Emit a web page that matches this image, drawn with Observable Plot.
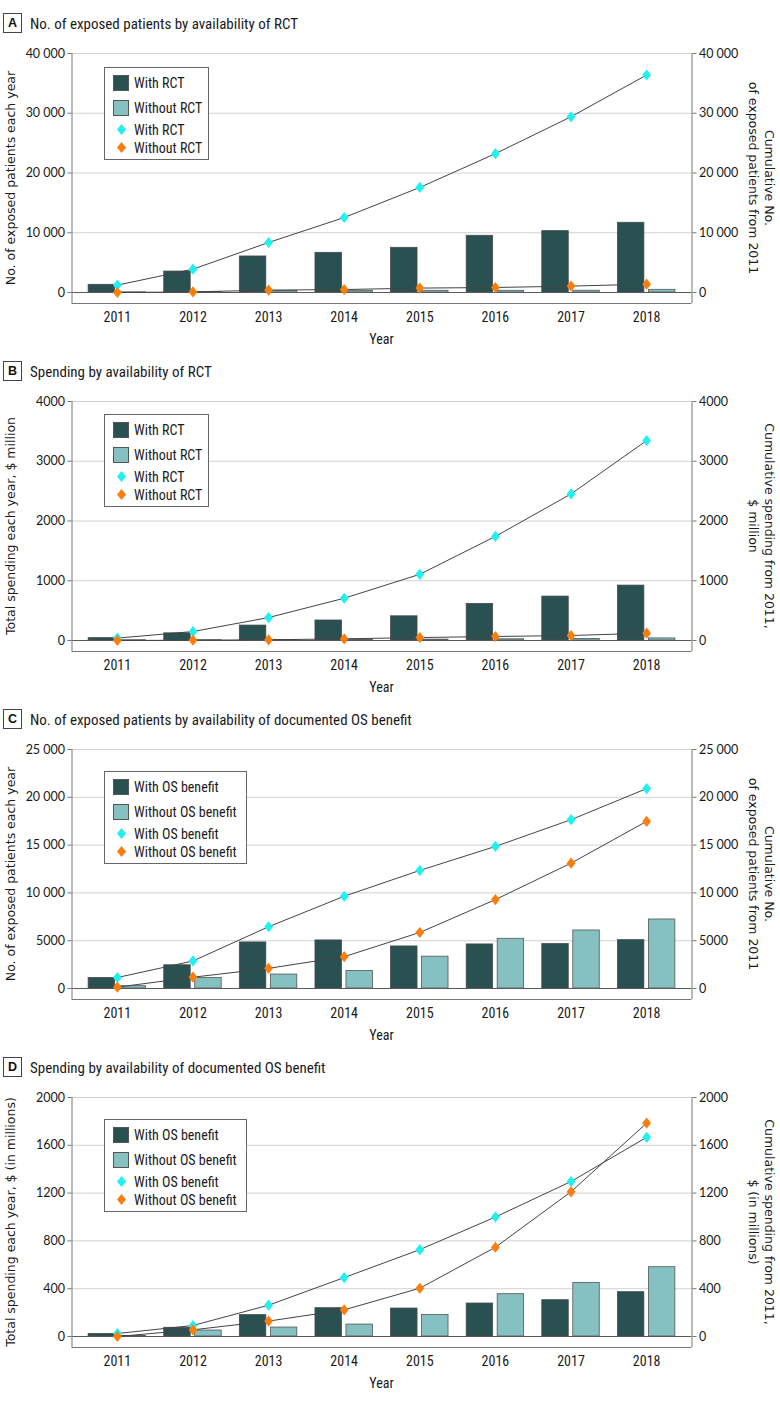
<!DOCTYPE html>
<html>
<head>
<meta charset="utf-8">
<script src="https://cdn.jsdelivr.net/npm/d3@7"></script>
<script src="https://cdn.jsdelivr.net/npm/@observablehq/plot@0.6"></script>
<style>
  body { margin: 0; background: #fff; }
  #root { position: relative; width: 780px; height: 1402px; background: #fff; overflow: hidden; }
  .abs { position: absolute; }
  .narrow { font-family: "Liberation Sans Narrow", "Arial Narrow", "Roboto Condensed", "DejaVu Sans Condensed", Lato, sans-serif; color: #1a1a1a; }
  .box { border: 1px solid #444; font: bold 12.5px "Liberation Sans", Arial, sans-serif; text-align: center; line-height: 18px; color: #111; box-sizing: border-box; width: 19px; height: 20px; }
  .title { font-size: 15px; line-height: 18px; white-space: nowrap; }
  .legend { border: 1px solid #666; box-sizing: border-box; background: #fff; }
  .sw { position: absolute; width: 16px; height: 16px; box-sizing: border-box; border: 1px solid #555; }
  .lt { position: absolute; font-size: 14px; line-height: 16px; white-space: nowrap; }
  .dia { position: absolute; width: 9px; height: 11px; clip-path: polygon(50% 0, 100% 50%, 50% 100%, 0 50%); }
  .axt { font-family: "DejaVu Sans", Verdana, sans-serif; font-size: 12.5px; color: #1a1a1a; white-space: nowrap; text-align: center; line-height: 16px; }
  .year { font-size: 14px; line-height: 16px; }
</style>
</head>
<body>
<div id="root"></div>
<script>
// ---------- data ----------
const years = [2011, 2012, 2013, 2014, 2015, 2016, 2017, 2018];

// Panel A: exposed patients by availability of RCT
const aWithBar = [1290, 3510, 6030, 6640, 7480, 9490, 10270, 11670];
const aWithoutBar = [30, 100, 280, 280, 290, 290, 300, 450];
const aWithCum = [1240, 3900, 8370, 12550, 17580, 23240, 29410, 36400];
const aWithoutCum = [0, 100, 400, 500, 740, 840, 1070, 1400];
const aTicks = [0, 10000, 20000, 30000, 40000];

// Panel B: spending by availability of RCT ($ million)
const bWithBar = [40, 120, 250, 335, 405, 613, 735, 919];
const bWithoutBar = [5, 5, 10, 15, 15, 20, 25, 35];
const bWithCum = [40, 150, 384, 707, 1108, 1742, 2453, 3346];
const bWithoutCum = [0, 5, 12, 28, 50, 67, 84, 122];
const bTicks = [0, 1000, 2000, 3000, 4000];

// Panel C: exposed patients by documented OS benefit
const cWithBar = [1100, 2430, 4820, 5030, 4400, 4610, 4650, 5060];
const cWithoutBar = [240, 1100, 1460, 1830, 3330, 5200, 6070, 7220];
const cWithCum = [1150, 2880, 6460, 9650, 12350, 14860, 17660, 20910];
const cWithoutCum = [140, 1180, 2110, 3330, 5860, 9300, 13110, 17480];
const cTicks = [0, 5000, 10000, 15000, 20000, 25000];

// Panel D: spending by documented OS benefit ($ millions)
const dWithBar = [22, 73, 179, 237, 234, 276, 304, 371];
const dWithoutBar = [5, 50, 75, 100, 181, 354, 449, 580];
const dWithCum = [25, 92, 262, 493, 727, 1000, 1297, 1667];
const dWithoutCum = [0, 56, 129, 223, 404, 747, 1211, 1786];
const dTicks = [0, 400, 800, 1200, 1600, 2000];

const letters = ["A", "B", "C", "D"];
const titles = [
  "No. of exposed patients by availability of RCT",
  "Spending by availability of RCT",
  "No. of exposed patients by availability of documented OS benefit",
  "Spending by availability of documented OS benefit"
];
const leftTitles = [
  "No. of exposed patients each year",
  "Total spending each year, $ million",
  "No. of exposed patients each year",
  "Total spending each year, $ (in millions)"
];
const rightTitles = [
  ["Cumulative No.", "of exposed patients from 2011"],
  ["Cumulative spending from 2011,", "$ million"],
  ["Cumulative No.", "of exposed patients from 2011"],
  ["Cumulative spending from 2011,", "$ (in millions)"]
];
const seriesLabels = [
  ["With RCT", "Without RCT"],
  ["With RCT", "Without RCT"],
  ["With OS benefit", "Without OS benefit"],
  ["With OS benefit", "Without OS benefit"]
];
const xLabel = "Year";

// ---------- styles ----------
const darkFill = "#2a5151";
const lightFill = "#84c1c0";
const cyan = "#1ff0f0";
const orange = "#fb7d0b";

const panels = [
  {withBar: aWithBar, withoutBar: aWithoutBar, withCum: aWithCum, withoutCum: aWithoutCum, ticks: aTicks, legTop: 14, legW: 105},
  {withBar: bWithBar, withoutBar: bWithoutBar, withCum: bWithCum, withoutCum: bWithoutCum, ticks: bTicks, legTop: 13, legW: 105},
  {withBar: cWithBar, withoutBar: cWithoutBar, withCum: cWithCum, withoutCum: cWithoutCum, ticks: cTicks, legTop: 22, legW: 143},
  {withBar: dWithBar, withoutBar: dWithoutBar, withCum: dWithCum, withoutCum: dWithoutCum, ticks: dTicks, legTop: 22, legW: 143}
];

const diamond = {
  draw(context) {
    const w = 4.4, h = 5.6;
    context.moveTo(0, -h);
    context.lineTo(w, 0);
    context.lineTo(0, h);
    context.lineTo(-w, 0);
    context.closePath();
  }
};

const fmt = d => d >= 10000 ? d3.format(",")(d).replace(",", "\u2005") : String(d);
const xDomain = [2010.4, 2018.6];
const root = document.getElementById("root");

function el(cls, style, html) {
  const e = document.createElement("div");
  e.className = cls;
  Object.assign(e.style, style);
  if (html !== undefined) e.textContent = html;
  root.appendChild(e);
  return e;
}

const plotH = 250, mTop = 10, mBottom = 50, mLeft = 71.5, mRight = 88.5;

panels.forEach((p, i) => {
  const T = 53 + 348 * i;
  const yMax = p.ticks[p.ticks.length - 1];
  const yDomain = [-0.046 * yMax, yMax];
  const table = years.map((year, k) => ({
    year,
    withBar: p.withBar[k],
    withoutBar: p.withoutBar[k],
    withCum: p.withCum[k],
    withoutCum: p.withoutCum[k]
  }));

  const chart = Plot.plot({
    width: 780,
    height: mTop + plotH + mBottom,
    marginTop: mTop,
    marginBottom: mBottom,
    marginLeft: mLeft,
    marginRight: mRight,
    x: {domain: xDomain, axis: null},
    y: {domain: yDomain, axis: null, label: null},
    style: {fontFamily: "Lato, sans-serif", fontSize: "12.5px", background: "transparent", overflow: "visible"},
    marks: [
      Plot.gridY(p.ticks, {stroke: "#d2d2d2", strokeOpacity: 1}),
      Plot.rect(table, {x1: d => d.year - 0.38, x2: d => d.year - 0.03, y1: 0, y2: "withBar", fill: darkFill, stroke: "#4a4a4a", strokeWidth: 0.8}),
      Plot.rect(table, {x1: d => d.year + 0.03, x2: d => d.year + 0.38, y1: 0, y2: "withoutBar", fill: lightFill, stroke: "#555", strokeWidth: 0.8}),
      Plot.ruleY([0], {stroke: "#5a5a5a", strokeWidth: 1}),
      Plot.ruleX(xDomain, {stroke: "#777"}),
      Plot.ruleY([yDomain[0]], {stroke: "#777"}),
      Plot.axisY(p.ticks, {anchor: "left", tickSize: 4, tickPadding: 3, tickFormat: fmt, label: null, stroke: "#777", fill: "#1a1a1a", fontSize: 12.5}),
      Plot.axisY(p.ticks, {anchor: "right", tickSize: 4, tickPadding: 3, tickFormat: fmt, label: null, stroke: "#777", fill: "#1a1a1a", fontSize: 12.5}),
      Plot.axisX(years, {anchor: "bottom", tickSize: 0, tickPadding: 9, tickFormat: d => String(d), label: null, fill: "#1a1a1a", fontSize: 14, fontFamily: "'Liberation Sans Narrow', 'Arial Narrow', 'Roboto Condensed', Lato, sans-serif"}),
      Plot.line(table, {x: "year", y: "withCum", stroke: "#444", strokeWidth: 1}),
      Plot.line(table, {x: "year", y: "withoutCum", stroke: "#444", strokeWidth: 1}),
      Plot.dot(table, {x: "year", y: "withCum", symbol: diamond, fill: cyan, stroke: "none"}),
      Plot.dot(table, {x: "year", y: "withoutCum", symbol: diamond, fill: orange, stroke: "none"})
    ]
  });
  chart.style.position = "absolute";
  chart.style.left = "0px";
  chart.style.top = (T - mTop) + "px";
  root.appendChild(chart);

  // panel title
  el("abs box", {left: "3px", top: (T - 40) + "px"}, letters[i]);
  el("abs narrow title", {left: "30px", top: (T - 38) + "px"}, titles[i]);

  // x label
  el("abs narrow year", {left: "331.5px", width: "100px", textAlign: "center", top: (T + 278) + "px"}, xLabel);

  // left axis title
  el("abs axt", {left: (11 - 150) + "px", width: "300px", top: (T + 125 - 8) + "px", transform: "rotate(-90deg)"}, leftTitles[i]);

  // right axis title
  const rt = el("abs axt", {left: (760.5 - 150) + "px", width: "300px", top: (T + 125 - 16) + "px", transform: "rotate(90deg)"});
  rightTitles[i].forEach(s => {
    const line = document.createElement("div");
    line.textContent = s;
    rt.appendChild(line);
  });

  // legend
  const leg = el("abs legend narrow", {left: "104px", top: (T + p.legTop) + "px", width: p.legW + "px", height: "93px"});
  const items = [
    {y: 16, type: "sw", color: darkFill, label: seriesLabels[i][0]},
    {y: 40.5, type: "sw", color: lightFill, label: seriesLabels[i][1]},
    {y: 62.5, type: "dia", color: cyan, label: seriesLabels[i][0]},
    {y: 80.5, type: "dia", color: orange, label: seriesLabels[i][1]}
  ];
  items.forEach(it => {
    const m = document.createElement("div");
    if (it.type === "sw") {
      m.className = "sw";
      Object.assign(m.style, {left: "8px", top: (it.y - 8 - 1) + "px", background: it.color});
    } else {
      m.className = "dia";
      Object.assign(m.style, {left: "12px", top: (it.y - 5.5 - 1) + "px", background: it.color});
    }
    leg.appendChild(m);
    const t = document.createElement("div");
    t.className = "lt";
    t.textContent = it.label;
    Object.assign(t.style, {left: "29px", top: (it.y - 8 - 1) + "px"});
    leg.appendChild(t);
  });
});
</script>
</body>
</html>
